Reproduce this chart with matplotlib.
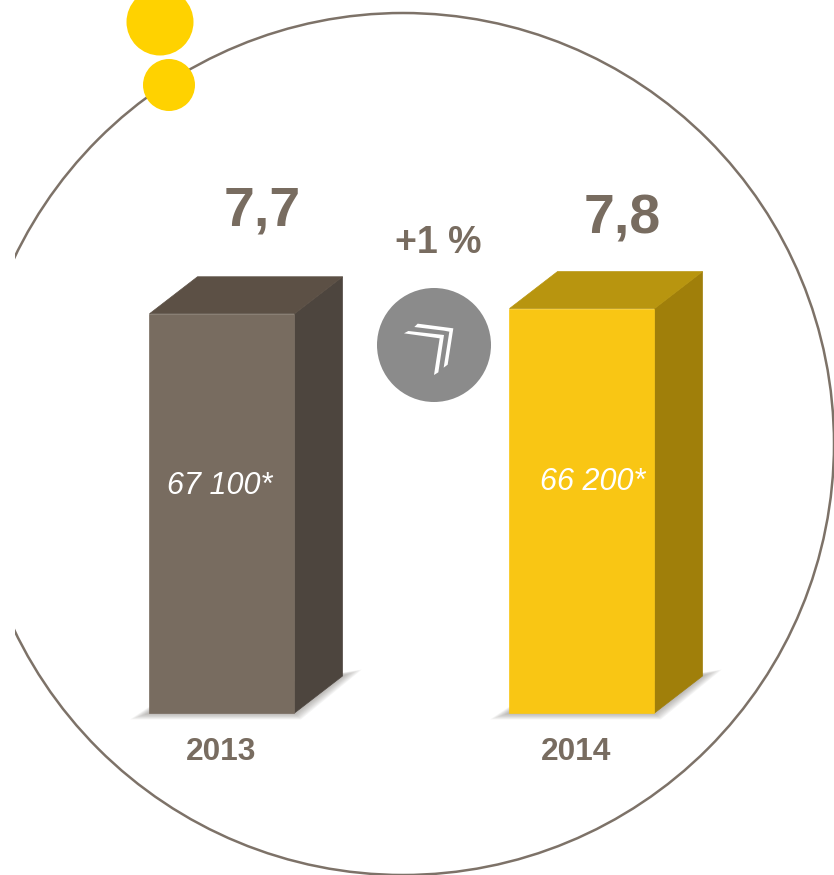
import matplotlib
matplotlib.use('Agg')
from matplotlib import pyplot as plt
from matplotlib.patches import Circle, Polygon, Rectangle

plt.rcParams['font.family'] = ['Liberation Sans', 'DejaVu Sans']

years = ['2013', '2014']
values = [7.7, 7.8]
value_labels = ['7,7', '7,8']
inner_labels = ['67 100*', '66 200*']
change_label = '+1 %'

W, H = 834, 875
BASE = 713          # baseline in pixels
PX_PER_UNIT = 51.85
DX, DY = 48, 37     # depth of the 3d box, pixels

front = ['#786c60', '#f9c614']
side = ['#4d453e', '#a07f0a']
top = ['#5c5045', '#b8950f']
centers = [222, 582]
year_x = [221, 576]
inner_x = [219.5, 592.5]
inner_y = [486, 482]
value_pos = [(262, 212), (622, 219)]
TEXT = '#786c60'


def pixel_axes(fig, z):
    a = fig.add_axes([0, 0, 1, 1])
    a.patch.set_alpha(0)
    a.set_xlim(0, W)
    a.set_ylim(H, 0)
    a.axis('off')
    a.set_zorder(z)
    return a


def chevron(a, pts):
    a.add_patch(Polygon([(370 + x / 3, 280 + y / 3) for x, y in pts], fc='white', ec='none', zorder=4))


fig = plt.figure(figsize=(W / 100, H / 100), dpi=100)

# ring, dots and badge
deco = pixel_axes(fig, 0)
deco.add_patch(Circle((403, 444), 431, fill=False, ec='#7d7268', lw=1.8))
deco.add_patch(Rectangle((0, 0), 15, H, fc='white', ec='none', zorder=2))
deco.add_patch(Circle((160, 22), 33.5, fc='#ffd200', ec='none', zorder=3))
deco.add_patch(Circle((169, 85), 26, fc='#ffd200', ec='none', zorder=3))
deco.add_patch(Circle((434, 345), 57, fc='#8b8b8b', ec='none', zorder=3))
chevron(deco, [(102, 160), (115, 153), (222, 165), (205, 277), (192, 285), (209, 175)])
chevron(deco, [(133, 141), (143, 131), (250, 145), (233, 254), (221, 263), (238, 155), (222, 152)])

# bars on the value scale
ax = fig.add_axes([0, 0, 1, 1])
ax.patch.set_alpha(0)
ax.set_xlim(0, W)
ax.set_ylim(-(H - BASE) / PX_PER_UNIT, BASE / PX_PER_UNIT)
ax.axis('off')
ax.set_zorder(1)

bar_w = 145
dy = DY / PX_PER_UNIT
for i, v in enumerate(values):
    x0 = centers[i] - bar_w / 2
    x1 = x0 + bar_w
    # soft floor shadow
    for k in range(8):
        g = (8 - k) * 1.6
        ax.add_patch(Polygon([(x0 - g * 1.5, -g / PX_PER_UNIT / 2),
                              (x1 + g / 2, -g / PX_PER_UNIT / 2),
                              (x1 + DX + g * 1.5, dy + g / PX_PER_UNIT / 2),
                              (x1 + DX - 20, dy),
                              (x0, g / PX_PER_UNIT / 2)],
                             fc='#6f6a64', ec='none', alpha=0.07, zorder=1))
    ax.add_patch(Polygon([(x1, 0), (x1 + DX, dy), (x1 + DX, v + dy), (x1, v)],
                         fc=side[i], ec=side[i], lw=0.5, zorder=3))
    ax.add_patch(Polygon([(x0, v), (x1, v), (x1 + DX, v + dy), (x0 + DX, v + dy)],
                         fc=top[i], ec=top[i], lw=0.5, zorder=3))
    ax.bar(centers[i], v, width=bar_w, color=front[i], ec=front[i], lw=0.5, zorder=4)

# texts
labels = pixel_axes(fig, 2)
for i in range(2):
    labels.text(value_pos[i][0], value_pos[i][1], value_labels[i], fontsize=40, fontweight='bold',
                color=TEXT, ha='center', va='center')
    labels.text(year_x[i], 752, years[i], fontsize=22.8, fontweight='bold',
                color=TEXT, ha='center', va='center')
    labels.text(inner_x[i], inner_y[i], inner_labels[i], fontsize=22, style='italic',
                color='white', ha='center', va='center')
labels.text(438.5, 243, change_label, fontsize=27, fontweight='bold', color=TEXT, ha='center', va='center')

fig.savefig('out.png', dpi=100)
